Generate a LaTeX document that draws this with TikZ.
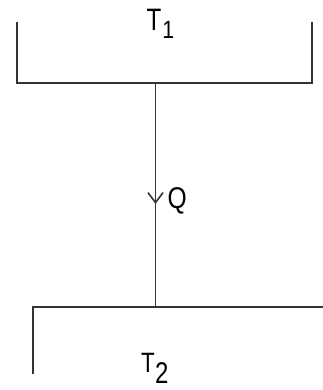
\documentclass[tikz,border=0pt]{standalone}
\usepackage{fontspec}
\setmainfont{Liberation Sans}
\usetikzlibrary{arrows.meta,decorations.markings}
\definecolor{linegray}{HTML}{333333}
\begin{document}
\begin{tikzpicture}[x=1pt,y=-1pt,
  wall/.style={draw=linegray,line width=1.8pt},
  lbl/.style={inner sep=0pt,outer sep=0pt,anchor=base west,text=black},
  flow/.style={wall,postaction={decorate},decoration={markings,
     mark=at position 0.54 with {\arrow{Straight Barb[length=10pt,width=15pt,line width=1.6pt]}}}}]
\useasboundingbox (0,0) rectangle (322,390);
% top reservoir
\coordinate (tl) at (17,22);
\coordinate (tbl) at (17,83);
\coordinate (tbr) at (312,83);
\coordinate (tr) at (312,22);
\coordinate (tm) at (155.5,83);
\draw[wall] (tl) -- (tbl) -- (tbr) -- (tr);
% bottom reservoir
\coordinate (bll) at (33,374);
\coordinate (bl) at (33,307);
\coordinate (br) at (323,307);
\coordinate (bm) at (155.5,307);
\draw[wall] (bll) -- (bl) -- (br);
% heat flow
\draw[flow] (tm) -- (bm);
% labels
\node[lbl] (T1) at (146.5,31) {\fontsize{31}{31}\selectfont\scalebox{0.78}[1]{T}\hspace{1pt}\raisebox{-8pt}{\fontsize{25}{25}\selectfont\scalebox{0.85}[1]{1}}};
\node[lbl] (T2) at (141,372) {\fontsize{28}{28}\selectfont\scalebox{0.8}[1]{T}\hspace{0.5pt}\raisebox{-11.5pt}{\fontsize{30}{30}\selectfont\scalebox{0.8}[1]{2}}};
\node[lbl] (Q) at (167.5,208) {\fontsize{30}{30}\selectfont\scalebox{0.82}[1]{Q}};
\end{tikzpicture}
\end{document}
